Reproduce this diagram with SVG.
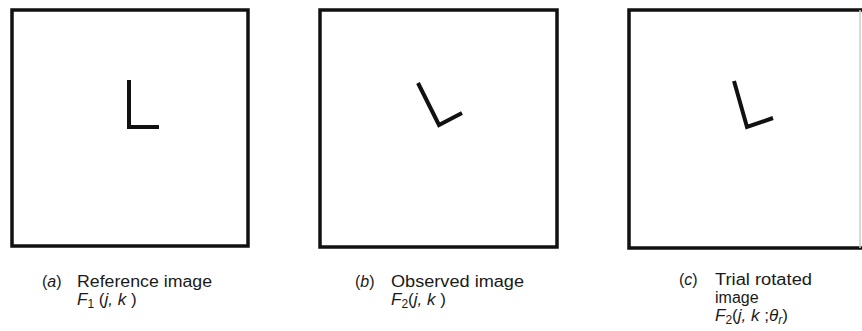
<svg xmlns="http://www.w3.org/2000/svg" width="862" height="331" viewBox="0 0 862 331">
<style>
.frame{fill:none;stroke:#111;stroke-width:3.5;stroke-linejoin:miter}
.ell{fill:none;stroke:#111;stroke-width:4;stroke-linejoin:miter;stroke-linecap:butt}
text{font-family:"Liberation Sans",Arial,sans-serif;font-size:16px;fill:#1a1a1a}
.f{font-size:17px}
.i{font-style:italic}
.sub{font-size:12px}
</style>
<rect width="862" height="331" fill="#fff"/>
<g id="panel-a">
<rect class="frame" x="12" y="10" width="236" height="236"/>
<polyline class="ell" points="129,80 129,127 159,127"/>
<text x="42" y="287">(<tspan class="i">a</tspan>)</text>
<text x="77" y="287" textLength="135" lengthAdjust="spacingAndGlyphs">Reference image</text>
<text class="f" x="77" y="305"><tspan class="i">F</tspan><tspan class="sub" dy="3">1</tspan><tspan dy="-3"> (</tspan><tspan class="i">j, k</tspan> )</text>
</g>
<g id="panel-b">
<rect class="frame" x="320" y="10" width="237" height="237"/>
<polyline class="ell" points="418,83 439,125 462,113"/>
<text x="355" y="287">(<tspan class="i">b</tspan>)</text>
<text x="391" y="287" textLength="133" lengthAdjust="spacingAndGlyphs">Observed image</text>
<text class="f" x="391" y="305"><tspan class="i">F</tspan><tspan class="sub" dy="3">2</tspan><tspan dy="-3">(</tspan><tspan class="i">j, k</tspan> )</text>
</g>
<g id="panel-c">
<path class="frame" d="M868,10 H629 V248 H868"/>
<line x1="860" y1="10" x2="860" y2="248" stroke="#ccc" stroke-width="1.5"/>
<polyline class="ell" points="734,81 747,127 773,118"/>
<text x="679" y="285">(<tspan class="i">c</tspan>)</text>
<text x="715" y="285" textLength="97" lengthAdjust="spacingAndGlyphs">Trial rotated</text>
<text x="715" y="303">image</text>
<text class="f" x="715" y="321"><tspan class="i">F</tspan><tspan class="sub" dy="3">2</tspan><tspan dy="-3">(</tspan><tspan class="i">j, k</tspan> ;<tspan class="i">θ</tspan><tspan class="sub i" dy="3">r</tspan><tspan dy="-3">)</tspan></text>
</g>
</svg>
